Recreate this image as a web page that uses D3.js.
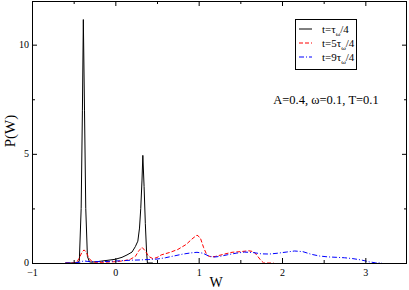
<!DOCTYPE html>
<html>
<head>
<meta charset="utf-8">
<script src="https://cdn.jsdelivr.net/npm/d3@7"></script>
<style>
  body { margin: 0; background: #fff; }
  svg { font-family: "Liberation Serif", "DejaVu Serif", serif; }
</style>
</head>
<body>
<svg width="409" height="290"></svg>
<script>
// t = tau/4
const w1 = [-0.6, -0.5, -0.45, -0.432, -0.41, -0.395, -0.384, -0.37, -0.355, -0.335, -0.31, -0.28, -0.2, -0.1, 0, 0.08, 0.14, 0.2, 0.24, 0.27, 0.29, 0.305, 0.32, 0.33, 0.345, 0.36, 0.375, 0.385, 0.45];
const p1 = [0, 0, 0.02, 0.1, 2.5, 7.0, 11.15, 7.0, 2.5, 0.3, 0.05, 0.04, 0.07, 0.12, 0.17, 0.26, 0.37, 0.5, 0.75, 1.0, 1.6, 2.5, 3.8, 4.93, 3.5, 1.8, 0.5, 0, 0];
// t = 5 tau/4
const w2 = [-0.6, -0.5, -0.46, -0.43, -0.4, -0.375, -0.35, -0.32, -0.29, -0.25, -0.2, -0.1, 0, 0.1, 0.18, 0.24, 0.28, 0.32, 0.36, 0.4, 0.45, 0.5, 0.55, 0.65, 0.75, 0.85, 0.92, 0.98, 1.02, 1.06, 1.1, 1.15, 1.2, 1.3, 1.4, 1.5, 1.6, 1.66, 1.7, 1.74, 1.78, 1.9];
const p2 = [0, 0, 0.05, 0.25, 0.5, 0.6, 0.5, 0.25, 0.1, 0.04, 0.03, 0.04, 0.06, 0.1, 0.17, 0.3, 0.55, 0.72, 0.55, 0.3, 0.2, 0.25, 0.37, 0.48, 0.62, 0.85, 1.1, 1.28, 1.15, 0.7, 0.35, 0.28, 0.3, 0.4, 0.49, 0.52, 0.56, 0.52, 0.35, 0.15, 0, 0];
// t = 9 tau/4
const w3 = [-0.6, -0.5, -0.42, -0.38, -0.33, -0.25, -0.1, 0, 0.1, 0.2, 0.3, 0.4, 0.5, 0.6, 0.7, 0.8, 0.9, 0.98, 1.05, 1.12, 1.18, 1.25, 1.35, 1.45, 1.55, 1.65, 1.75, 1.85, 1.95, 2.05, 2.15, 2.25, 2.35, 2.45, 2.55, 2.65, 2.75, 2.85, 2.95, 3.05, 3.12, 3.2];
const p3 = [0, 0, 0.04, 0.1, 0.07, 0.06, 0.07, 0.09, 0.11, 0.13, 0.14, 0.16, 0.18, 0.24, 0.32, 0.4, 0.46, 0.49, 0.45, 0.32, 0.27, 0.3, 0.38, 0.45, 0.5, 0.48, 0.42, 0.41, 0.45, 0.5, 0.55, 0.52, 0.4, 0.32, 0.28, 0.26, 0.24, 0.2, 0.14, 0.05, 0.01, 0];

const xTicks = [-1, 0, 1, 2, 3];
const xMinor = [-0.5, 0.5, 1.5, 2.5];
const yTicks = [0, 5, 10];
const yMinor = [2.5, 7.5];

const svg = d3.select("svg");
const plotLeft = 32, plotRight = 407, plotTop = 1, plotBottom = 263;

const x = d3.scaleLinear().domain([-1, 3.5]).range([plotLeft, plotRight]);
const y = d3.scaleLinear().domain([0, 12]).range([plotBottom, plotTop]);

// Curves
const line = d3.line()
  .x(function (d) { return x(d[0]); })
  .y(function (d) { return y(d[1]); });

const series = [
  { w: w1, p: p1, color: "#000000", dash: null },
  { w: w2, p: p2, color: "#ff0000", dash: "4,2" },
  { w: w3, p: p3, color: "#0000ff", dash: "5,2,1,2" },
];

svg.append("g")
  .selectAll("path")
  .data(series)
  .enter()
  .append("path")
  .attr("d", function (s) { return line(d3.zip(s.w, s.p)); })
  .attr("fill", "none")
  .attr("stroke", function (s) { return s.color; })
  .attr("stroke-width", 1)
  .attr("stroke-dasharray", function (s) { return s.dash; });

// Axes (ticks inside, mirrored)
function styleAxis(g) {
  g.select(".domain").remove();
  g.selectAll("line").attr("stroke", "#000");
  g.selectAll("text").attr("font-family", "Liberation Serif, serif").attr("font-size", 10).attr("fill", "#000");
}
svg.append("g")
  .attr("transform", "translate(0," + plotBottom + ")")
  .call(d3.axisBottom(x).tickValues(xTicks).tickSizeInner(-5).tickSizeOuter(0).tickPadding(6).tickFormat(d3.format("d")))
  .call(styleAxis);
svg.append("g")
  .attr("transform", "translate(0," + plotBottom + ")")
  .call(d3.axisBottom(x).tickValues(xMinor).tickSize(-3).tickFormat(""))
  .call(styleAxis);
svg.append("g")
  .attr("transform", "translate(0," + plotTop + ")")
  .call(d3.axisTop(x).tickValues(xTicks).tickSize(-5).tickFormat(""))
  .call(styleAxis);
svg.append("g")
  .attr("transform", "translate(0," + plotTop + ")")
  .call(d3.axisTop(x).tickValues(xMinor).tickSize(-3).tickFormat(""))
  .call(styleAxis);
svg.append("g")
  .attr("transform", "translate(" + plotLeft + ",0)")
  .call(d3.axisLeft(y).tickValues(yTicks).tickSizeInner(-5).tickSizeOuter(0).tickPadding(3).tickFormat(d3.format("d")))
  .call(styleAxis)
  .selectAll("text").attr("dy", "0.25em");
svg.append("g")
  .attr("transform", "translate(" + plotLeft + ",0)")
  .call(d3.axisLeft(y).tickValues(yMinor).tickSize(-3).tickFormat(""))
  .call(styleAxis);
svg.append("g")
  .attr("transform", "translate(" + plotRight + ",0)")
  .call(d3.axisRight(y).tickValues(yTicks).tickSize(-5).tickFormat(""))
  .call(styleAxis);
svg.append("g")
  .attr("transform", "translate(" + plotRight + ",0)")
  .call(d3.axisRight(y).tickValues(yMinor).tickSize(-3).tickFormat(""))
  .call(styleAxis);

// Frame
svg.append("rect")
  .attr("x", plotLeft + 0.5)
  .attr("y", plotTop + 0.5)
  .attr("width", plotRight - plotLeft - 1)
  .attr("height", plotBottom - plotTop)
  .attr("fill", "none")
  .attr("stroke", "#000")
  .attr("stroke-width", 1);

// Axis titles
svg.append("text")
  .attr("x", 216)
  .attr("y", 286.5)
  .attr("text-anchor", "middle")
  .attr("font-size", 14)
  .text("W");
svg.append("text")
  .attr("text-anchor", "middle")
  .attr("transform", "translate(15,131)rotate(-90)")
  .attr("font-size", 15)
  .text("P(W)");

// Legend
const legendLabels = [["t=", "τ", "ω", "/4"], ["t=5", "τ", "ω", "/4"], ["t=9", "τ", "ω", "/4"]];
svg.append("rect")
  .attr("x", 295.5).attr("y", 19.5)
  .attr("width", 61).attr("height", 50)
  .attr("fill", "#fff").attr("stroke", "#000");
const lg = svg.append("g")
  .selectAll("g")
  .data(series)
  .enter()
  .append("g")
  .attr("transform", function (d, i) { return "translate(0," + (29 + i * 14) + ")"; });
lg.append("line")
  .attr("x1", 299).attr("x2", 312).attr("y1", 0).attr("y2", 0)
  .attr("stroke", function (s) { return s.color; })
  .attr("stroke-dasharray", function (s) { return s.dash; });
const lt = lg.append("text")
  .attr("x", 322).attr("y", 4)
  .attr("font-size", 11);
lt.append("tspan").text(function (d, i) { return legendLabels[i][0] + legendLabels[i][1]; });
lt.append("tspan").attr("font-size", 7).attr("dy", 3).text(function (d, i) { return legendLabels[i][2]; });
lt.append("tspan").attr("dy", -3).text(function (d, i) { return legendLabels[i][3]; });

// Parameters
svg.append("text")
  .attr("x", 326)
  .attr("y", 104)
  .attr("text-anchor", "middle")
  .attr("font-size", 12.5)
  .text("A=0.4, ω=0.1, T=0.1");
</script>
</body>
</html>
